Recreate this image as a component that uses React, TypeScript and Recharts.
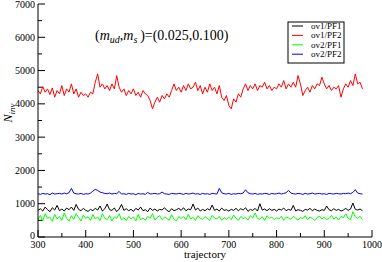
import React from 'react';
import { LineChart, Line, XAxis, YAxis, Customized } from 'recharts';

const trajectory = [
  300,305,310,315,320,325,330,335,340,345,
  350,355,360,365,370,375,380,385,390,395,
  400,405,410,415,420,425,430,435,440,445,
  450,455,460,465,470,475,480,485,490,495,
  500,505,510,515,520,525,530,535,540,545,
  550,555,560,565,570,575,580,585,590,595,
  600,605,610,615,620,625,630,635,640,645,
  650,655,660,665,670,675,680,685,690,695,
  700,705,710,715,720,725,730,735,740,745,
  750,755,760,765,770,775,780,785,790,795,
  800,805,810,815,820,825,830,835,840,845,
  850,855,860,865,870,875,880,885,890,895,
  900,905,910,915,920,925,930,935,940,945,
  950,955,960,965,970,975,980,
];

const ov1PF1 = [
  800,850,780,900,820,760,880,810,950,790,
  840,780,870,820,900,800,980,830,790,860,
  800,770,830,790,860,810,930,780,850,990,
  820,800,870,760,840,980,800,850,790,830,
  770,860,810,900,790,820,760,870,800,840,
  780,830,810,880,800,760,850,790,820,860,
  800,880,790,840,820,990,810,870,780,830,
  790,850,810,960,800,840,780,870,800,820,
  780,830,800,860,790,850,810,880,770,830,
  800,860,780,1000,810,840,790,850,800,830,
  780,840,810,870,790,830,800,950,780,820,
  800,770,830,810,860,790,840,800,780,820,
  800,930,820,790,850,800,830,780,810,860,
  800,840,1020,830,810,840,790,
];

const ov1PF2 = [
  4400,4300,4520,4350,4450,4280,4480,4200,4400,4300,
  4550,4250,4450,4350,4600,4300,4450,4200,4350,4250,
  4300,4200,4350,4300,4650,4900,4500,4600,4450,4550,
  4400,4600,4450,4850,4500,4350,4450,4250,4400,4300,
  4450,4250,4350,4200,4400,4300,4250,4100,3850,4050,
  4200,4050,4250,4150,4300,4200,4400,4600,4400,4500,
  4350,4550,4400,4600,4450,4500,4650,4400,4550,4300,
  4500,4350,4600,4400,4500,4300,4550,4200,4100,4250,
  3950,3850,4150,4050,4300,4200,4450,4600,4400,4550,
  4450,4600,4400,4550,4500,4650,4450,4550,4400,4500,
  4450,4600,4500,4700,4450,4600,4500,4650,4500,4850,
  4600,4250,4400,4500,4350,4550,4450,4600,4550,4800,
  4600,4450,4550,4400,4500,4450,4550,4200,4450,4600,
  4500,4700,4550,4900,4600,4650,4450,
];

const ov2PF1 = [
  520,650,480,700,560,600,470,680,540,620,
  500,720,560,480,640,530,700,590,480,660,
  560,610,500,680,540,600,490,700,560,520,
  640,480,600,560,700,510,580,490,620,540,
  600,480,680,520,570,500,620,560,700,510,
  590,640,520,600,560,500,670,540,480,610,
  560,620,520,680,540,590,500,640,560,530,
  610,560,500,650,570,540,620,500,580,530,
  600,520,660,560,500,620,550,590,510,640,
  570,720,560,530,610,500,640,560,600,520,
  580,540,620,500,600,570,530,620,560,510,
  590,550,640,520,600,560,500,580,630,540,
  600,520,560,650,540,600,510,620,580,700,
  560,520,760,600,560,620,520,
];

const ov2PF2 = [
  1300,1280,1310,1290,1300,1270,1320,1290,1300,1310,
  1290,1320,1300,1330,1460,1320,1300,1290,1310,1280,
  1300,1290,1320,1380,1430,1400,1350,1330,1310,1300,
  1320,1290,1310,1300,1370,1290,1300,1280,1310,1290,
  1300,1270,1310,1290,1300,1280,1340,1290,1300,1310,
  1290,1300,1350,1300,1290,1280,1310,1300,1290,1310,
  1300,1280,1310,1290,1300,1320,1290,1300,1280,1310,
  1290,1300,1280,1310,1300,1290,1460,1330,1300,1290,
  1310,1280,1300,1290,1310,1300,1320,1420,1330,1300,
  1290,1310,1280,1300,1290,1310,1300,1280,1310,1290,
  1300,1320,1290,1310,1330,1400,1320,1300,1290,1310,
  1300,1280,1310,1290,1300,1320,1290,1300,1310,1290,
  1300,1280,1310,1300,1290,1310,1300,1290,1310,1300,
  1320,1300,1340,1420,1320,1300,1290,
];

const seriesNames = ['ov1/PF1', 'ov1/PF2', 'ov2/PF1', 'ov2/PF2'];
const seriesColors = ['#000000', '#ff0000', '#00ff00', '#0000ff'];

const xTicks = [300,350,400,450,500,550,600,650,700,750,800,850,900,950,1000];
const yTicks = [0,500,1000,1500,2000,2500,3000,3500,4000,4500,5000,5500,6000,6500,7000];

const data = trajectory.map((t, i) => ({
  t,
  a: ov1PF1[i],
  b: ov1PF2[i],
  c: ov2PF1[i],
  d: ov2PF2[i],
}));

const FONT = "'Liberation Serif', 'Times New Roman', 'DejaVu Serif', serif";
const serif = { fontFamily: FONT };

const makeXTick = (dir: number, withLabel: boolean) => (props: any) => {
  const { x, y, payload } = props;
  const v = payload.value;
  const major = v % 100 === 0;
  const len = major ? 7 : 4;
  return (
    <g>
      <line x1={x} x2={x} y1={y} y2={y - dir * len} stroke="#000" strokeWidth={1} />
      {withLabel && major ? (
        <text x={x} y={y + 10.5} textAnchor="middle" fontSize={10} style={serif} fill="#000">
          {v}
        </text>
      ) : null}
    </g>
  );
};

const makeYTick = (dir: number, withLabel: boolean) => (props: any) => {
  const { x, y, payload } = props;
  const v = payload.value;
  const major = v % 1000 === 0;
  const len = major ? 7 : 4;
  return (
    <g>
      <line x1={x} x2={x + dir * len} y1={y} y2={y} stroke="#000" strokeWidth={1} />
      {withLabel && major ? (
        <text x={x - 3} y={y + (v === 0 ? 2.3 : 3.5)} textAnchor="end" fontSize={10} style={serif} fill="#000">
          {v}
        </text>
      ) : null}
    </g>
  );
};

const Annotations = () => (
  <g style={serif} fill="#000">
    <text x={95} y={40} fontSize={14} style={serif}>
      (<tspan fontStyle="italic">m</tspan>
      <tspan fontStyle="italic" fontSize={10} dy={3}>ud</tspan>
      <tspan dy={-3}>,</tspan>
      <tspan fontStyle="italic">m</tspan>
      <tspan fontStyle="italic" fontSize={10} dy={3}>s</tspan>
      <tspan dy={-3}>{'\u2009)=(0.025,0.100)'}</tspan>
    </text>
    <text x={205} y={258} fontSize={11} textAnchor="middle" style={serif}>trajectory</text>
    <text transform="translate(11.5,113) rotate(-90)" fontSize={12} textAnchor="middle" style={serif}>
      <tspan fontStyle="italic">N</tspan>
      <tspan fontStyle="italic" fontSize={9} dy={3}>inv</tspan>
    </text>
    <rect x={288} y={22} width={56} height={41} fill="#fff" stroke="#000" strokeWidth={1} />
    {seriesNames.map((n, i) => (
      <g key={n}>
        <line x1={292} x2={303} y1={26 + i * 9.4} y2={26 + i * 9.4} stroke={seriesColors[i]} strokeWidth={1} />
        <text x={311} y={29 + i * 9.4} fontSize={9} style={serif}>{n}</text>
      </g>
    ))}
  </g>
);

export default function App() {
  const keys = ['a', 'b', 'c', 'd'];
  return (
    <div style={{ position: 'absolute', left: 0, top: 0, background: '#fff' }}>
      <LineChart width={382} height={262} data={data} margin={{ top: 4, right: 10, bottom: 0, left: 0 }}>
        <XAxis
          dataKey="t"
          type="number"
          domain={[300, 1000]}
          ticks={xTicks}
          interval={0}
          height={25}
          tickSize={0}
          tickMargin={0}
          tickLine={false}
          axisLine={{ stroke: '#000', strokeWidth: 1 }}
          tick={makeXTick(1, true)}
        />
        <XAxis
          xAxisId="top"
          orientation="top"
          dataKey="t"
          type="number"
          domain={[300, 1000]}
          ticks={xTicks}
          interval={0}
          height={0}
          tickSize={0}
          tickMargin={0}
          tickLine={false}
          axisLine={{ stroke: '#000', strokeWidth: 1 }}
          tick={makeXTick(-1, false)}
        />
        <YAxis
          type="number"
          domain={[0, 7000]}
          ticks={yTicks}
          interval={0}
          width={38}
          tickSize={0}
          tickMargin={0}
          tickLine={false}
          axisLine={{ stroke: '#000', strokeWidth: 1 }}
          tick={makeYTick(1, true)}
        />
        <YAxis
          yAxisId="right"
          orientation="right"
          type="number"
          domain={[0, 7000]}
          ticks={yTicks}
          interval={0}
          width={0}
          tickSize={0}
          tickMargin={0}
          tickLine={false}
          axisLine={{ stroke: '#000', strokeWidth: 1 }}
          tick={makeYTick(-1, false)}
        />
        {keys.map((k, i) => (
          <Line
            key={k}
            dataKey={k}
            name={seriesNames[i]}
            stroke={seriesColors[i]}
            strokeWidth={1}
            dot={false}
            isAnimationActive={false}
            type="linear"
          />
        ))}
        <Customized component={Annotations} />
      </LineChart>
    </div>
  );
}
